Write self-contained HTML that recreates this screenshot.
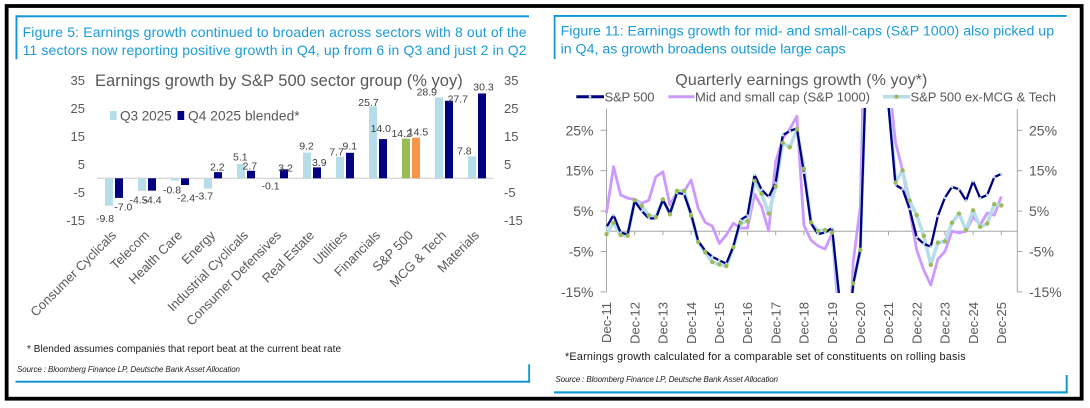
<!DOCTYPE html>
<html>
<head>
<meta charset="utf-8">
<style>
  html, body { margin:0; padding:0; background:#fff; }
  svg { display:block; }
  text { font-family: "Liberation Sans", Arial, sans-serif; }
</style>
</head>
<body>
<svg width="1090" height="408" viewBox="0 0 1090 408" xmlns="http://www.w3.org/2000/svg">
  <rect x="0" y="0" width="1090" height="408" fill="#ffffff"/>
  <!-- black frame -->
  <rect x="6.65" y="6" width="1075" height="392.7" fill="none" stroke="#000" stroke-width="3.8"/>

  <!-- ================= LEFT PANEL ================= -->
  <rect x="15.5" y="15.3" width="513.5" height="2" fill="#1297d6"/>
  <rect x="15.5" y="15.3" width="1.9" height="44" fill="#1297d6"/>
  <text x="22.6" y="37" font-size="14" fill="#1b9bd7" textLength="504" lengthAdjust="spacing">Figure 5: Earnings growth continued to broaden across sectors with 8 out of the</text>
  <text x="22.6" y="55" font-size="14" fill="#1b9bd7" textLength="504" lengthAdjust="spacing">11 sectors now reporting positive growth in Q4, up from 6 in Q3 and just 2 in Q2</text>

  <text x="95" y="86" font-size="16.5" fill="#595959" textLength="367.7" lengthAdjust="spacing">Earnings growth by S&amp;P 500 sector group (% yoy)</text>

  <!-- legend -->
  <rect x="110" y="111" width="6.7" height="9" fill="#b7dde8"/>
  <text x="120" y="120.5" font-size="13.7" fill="#595959" textLength="51.7" lengthAdjust="spacing">Q3 2025</text>
  <rect x="177.5" y="111" width="6.7" height="9" fill="#000080"/>
  <text x="188" y="120.5" font-size="13.7" fill="#595959" textLength="111.6" lengthAdjust="spacing">Q4 2025 blended*</text>

  <!-- y axis labels -->
  <g font-size="13" fill="#595959" text-anchor="end">
    <text x="85" y="85">35</text>
    <text x="85" y="113">25</text>
    <text x="85" y="141">15</text>
    <text x="85" y="169">5</text>
    <text x="85" y="197">-5</text>
    <text x="85" y="225">-15</text>
  </g>
  <g font-size="13" fill="#595959">
    <text x="504" y="85">35</text>
    <text x="504" y="113">25</text>
    <text x="504" y="141">15</text>
    <text x="504" y="169">5</text>
    <text x="504" y="197">-5</text>
    <text x="504" y="225">-15</text>
  </g>

  <!-- zero line -->
  <rect x="97" y="177.6" width="396" height="1.4" fill="#d9d9d9"/>

  <!-- bars -->
  <g>
    <rect x="105" y="178.3" width="8" height="27.44" fill="#b7dde8"/>
    <rect x="115" y="178.3" width="8" height="19.6" fill="#000080"/>
    <rect x="138" y="178.3" width="8" height="12.6" fill="#b7dde8"/>
    <rect x="148" y="178.3" width="8" height="12.32" fill="#000080"/>
    <rect x="171" y="178.3" width="8" height="2.24" fill="#b7dde8"/>
    <rect x="181" y="178.3" width="8" height="6.72" fill="#000080"/>
    <rect x="204" y="178.3" width="8" height="10.36" fill="#b7dde8"/>
    <rect x="214" y="172.14" width="8" height="6.16" fill="#000080"/>
    <rect x="237" y="164.02" width="8" height="14.28" fill="#b7dde8"/>
    <rect x="247" y="170.74" width="8" height="7.56" fill="#000080"/>
    <rect x="270" y="178.3" width="8" height="0.8" fill="#b7dde8"/>
    <rect x="280" y="169.34" width="8" height="8.96" fill="#000080"/>
    <rect x="303" y="152.54" width="8" height="25.76" fill="#b7dde8"/>
    <rect x="313" y="167.38" width="8" height="10.92" fill="#000080"/>
    <rect x="336" y="156.74" width="8" height="21.56" fill="#b7dde8"/>
    <rect x="346" y="152.82" width="8" height="25.48" fill="#000080"/>
    <rect x="369" y="106.34" width="8" height="71.96" fill="#b7dde8"/>
    <rect x="379" y="139.1" width="8" height="39.2" fill="#000080"/>
    <rect x="402" y="138.54" width="8" height="39.76" fill="#9bbb59"/>
    <rect x="412" y="137.7" width="8" height="40.6" fill="#f79646"/>
    <rect x="435" y="97.38" width="8" height="80.92" fill="#b7dde8"/>
    <rect x="445" y="100.74" width="8" height="77.56" fill="#000080"/>
    <rect x="468" y="156.46" width="8" height="21.84" fill="#b7dde8"/>
    <rect x="478" y="93.46" width="8" height="84.84" fill="#000080"/>
  </g>

  <!-- data labels -->
  <g font-size="10.5" fill="#404040" text-anchor="middle">
    <text x="105" y="222">-9.8</text>
    <text x="123.3" y="210.4">-7.0</text>
    <text x="138.5" y="203.7">-4.5</text>
    <text x="152.5" y="203.7">-4.4</text>
    <text x="172" y="193.7">-0.8</text>
    <text x="186" y="201.4">-2.4</text>
    <text x="204" y="199.7">-3.7</text>
    <text x="217.3" y="170.7">2.2</text>
    <text x="240.3" y="160.4">5.1</text>
    <text x="249.8" y="169.4">2.7</text>
    <text x="270.5" y="189.7">-0.1</text>
    <text x="285.5" y="171.4">3.2</text>
    <text x="306.5" y="149.7">9.2</text>
    <text x="319.3" y="166">3.9</text>
    <text x="336.5" y="155.4">7.7</text>
    <text x="349.8" y="149.7">9.1</text>
    <text x="368.5" y="106">25.7</text>
    <text x="380.8" y="132">14.0</text>
    <text x="401.7" y="137">14.2</text>
    <text x="418" y="135.4">14.5</text>
    <text x="426.8" y="95.4">28.9</text>
    <text x="457.8" y="102.7">27.7</text>
    <text x="464.3" y="154.7">7.8</text>
    <text x="483.5" y="90.4">30.3</text>
  </g>

  <!-- category labels -->
  <g font-size="13" fill="#595959" text-anchor="end">
    <text transform="translate(117,236) rotate(-45)">Consumer Cyclicals</text>
    <text transform="translate(150,236) rotate(-45)">Telecom</text>
    <text transform="translate(183,236) rotate(-45)">Health Care</text>
    <text transform="translate(216,236) rotate(-45)">Energy</text>
    <text transform="translate(249,236) rotate(-45)">Industrial Cyclicals</text>
    <text transform="translate(282,236) rotate(-45)">Consumer Defensives</text>
    <text transform="translate(315,236) rotate(-45)">Real Estate</text>
    <text transform="translate(348,236) rotate(-45)">Utilities</text>
    <text transform="translate(381,236) rotate(-45)">Financials</text>
    <text transform="translate(414,236) rotate(-45)">S&amp;P 500</text>
    <text transform="translate(447,236) rotate(-45)">MCG &amp; Tech</text>
    <text transform="translate(480,236) rotate(-45)">Materials</text>
  </g>

  <text x="27" y="352" font-size="10" fill="#1a1a1a" textLength="314" lengthAdjust="spacing">* Blended assumes companies that report beat at the current beat rate</text>
  <text x="17" y="372" font-size="8" font-style="italic" fill="#222" textLength="223" lengthAdjust="spacing">Source : Bloomberg Finance LP, Deutsche Bank Asset Allocation</text>
  <rect x="15.5" y="380.7" width="514.5" height="2" fill="#1297d6"/>
  <rect x="528.2" y="364.3" width="1.9" height="18.4" fill="#1297d6"/>

  <!-- ================= RIGHT PANEL ================= -->
  <rect x="553.7" y="15" width="513" height="1.9" fill="#1297d6"/>
  <rect x="553.7" y="15" width="1.8" height="44" fill="#1297d6"/>
  <text x="560.6" y="35.5" font-size="14.2" fill="#1b9bd7" textLength="493.5" lengthAdjust="spacing">Figure 11: Earnings growth for mid- and small-caps (S&amp;P 1000) also picked up</text>
  <text x="560.6" y="53.5" font-size="14.2" fill="#1b9bd7" textLength="285" lengthAdjust="spacing">in Q4, as growth broadens outside large caps</text>

  <text x="675.3" y="84.8" font-size="16" fill="#595959" textLength="252" lengthAdjust="spacing">Quarterly earnings growth (% yoy*)</text>

  <!-- legend -->
  <line x1="576.3" y1="96.7" x2="604" y2="96.7" stroke="#000080" stroke-width="3"/>
  <circle cx="590" cy="96.7" r="1.4" fill="#b7dde8"/>
  <text x="604.5" y="101.3" font-size="13" fill="#595959" textLength="50" lengthAdjust="spacing">S&amp;P 500</text>
  <line x1="668.4" y1="96.7" x2="694.5" y2="96.7" stroke="#cc99ff" stroke-width="3"/>
  <text x="695" y="101.3" font-size="13" fill="#595959" textLength="175" lengthAdjust="spacing">Mid and small cap (S&amp;P 1000)</text>
  <line x1="883" y1="96.7" x2="910" y2="96.7" stroke="#b7dde8" stroke-width="3.5"/>
  <circle cx="896.5" cy="96.7" r="2.2" fill="#9bbb59"/>
  <text x="910.5" y="101.3" font-size="13" fill="#595959" textLength="145.5" lengthAdjust="spacing">S&amp;P 500 ex-MCG &amp; Tech</text>

  <!-- axes -->
  <g stroke="#a6a6a6" stroke-width="1" fill="none">
    <line x1="606.5" y1="109" x2="606.5" y2="292"/>
    <line x1="600.5" y1="130.3" x2="606.5" y2="130.3"/>
    <line x1="600.5" y1="170.7" x2="606.5" y2="170.7"/>
    <line x1="600.5" y1="211.1" x2="606.5" y2="211.1"/>
    <line x1="600.5" y1="251.5" x2="606.5" y2="251.5"/>
    <line x1="600.5" y1="291.9" x2="606.5" y2="291.9"/>
    <line x1="1017.3" y1="109" x2="1017.3" y2="292"/>
    <line x1="1017.3" y1="130.3" x2="1022.5" y2="130.3"/>
    <line x1="1017.3" y1="170.7" x2="1022.5" y2="170.7"/>
    <line x1="1017.3" y1="211.1" x2="1022.5" y2="211.1"/>
    <line x1="1017.3" y1="251.5" x2="1022.5" y2="251.5"/>
    <line x1="1017.3" y1="291.9" x2="1022.5" y2="291.9"/>
    <line x1="606.5" y1="231.3" x2="1017.3" y2="231.3"/>
    <path d="M634.7 231.3v4M662.9 231.3v4M691.1 231.3v4M719.3 231.3v4M747.5 231.3v4M775.7 231.3v4M803.9 231.3v4M832.1 231.3v4M860.3 231.3v4M888.5 231.3v4M916.7 231.3v4M944.9 231.3v4M973.1 231.3v4M1001.3 231.3v4"/>
  </g>
  <g font-size="14" fill="#595959" text-anchor="end">
    <text x="593.5" y="135.3">25%</text>
    <text x="593.5" y="175.7">15%</text>
    <text x="593.5" y="216.1">5%</text>
    <text x="593.5" y="256.5">-5%</text>
    <text x="593.5" y="296.9">-15%</text>
  </g>
  <g font-size="14" fill="#595959">
    <text x="1029" y="135.3">25%</text>
    <text x="1029" y="175.7">15%</text>
    <text x="1029" y="216.1">5%</text>
    <text x="1029" y="256.5">-5%</text>
    <text x="1029" y="296.9">-15%</text>
  </g>

  <!-- x labels -->
  <g font-size="13" fill="#595959" text-anchor="end">
    <text transform="translate(611.2,302) rotate(-90)">Dec-11</text>
    <text transform="translate(639.4,302) rotate(-90)">Dec-12</text>
    <text transform="translate(667.6,302) rotate(-90)">Dec-13</text>
    <text transform="translate(695.8,302) rotate(-90)">Dec-14</text>
    <text transform="translate(724,302) rotate(-90)">Dec-15</text>
    <text transform="translate(752.2,302) rotate(-90)">Dec-16</text>
    <text transform="translate(780.4,302) rotate(-90)">Dec-17</text>
    <text transform="translate(808.6,302) rotate(-90)">Dec-18</text>
    <text transform="translate(836.8,302) rotate(-90)">Dec-19</text>
    <text transform="translate(865,302) rotate(-90)">Dec-20</text>
    <text transform="translate(893.2,302) rotate(-90)">Dec-21</text>
    <text transform="translate(921.4,302) rotate(-90)">Dec-22</text>
    <text transform="translate(949.6,302) rotate(-90)">Dec-23</text>
    <text transform="translate(977.8,302) rotate(-90)">Dec-24</text>
    <text transform="translate(1006,302) rotate(-90)">Dec-25</text>
  </g>

  <defs>
    <clipPath id="plot">
      <rect x="604" y="108" width="416" height="185"/>
    </clipPath>
  </defs>

  <g clip-path="url(#plot)" fill="none" stroke-linejoin="round">
    <!-- purple -->
    <polyline stroke="#cc99ff" stroke-width="2.8" points="606.5,213.12 613.55,166.66 620.6,194.94 627.65,198.17 634.7,199.38 641.75,203.42 648.8,200.19 655.85,176.76 662.9,171.91 669.95,205.04 677,191.71 684.05,191.71 691.1,179.99 698.15,208.27 705.2,222.41 712.25,226.05 719.3,243.42 726.35,234.94 733.4,223.22 740.45,228.07 747.5,228.07 754.55,194.13 761.6,206.66 768.65,230.9 775.7,161.81 782.75,138.38 789.8,129.09 796.85,116.16 803.9,225.24 810.95,240.19 818,245.84 825.05,249.08 832.1,233.32 839.15,320.18 846.2,413.1 853.25,261.6 860.3,206.66 867.35,-83.82 874.4,-374.7 881.45,-11.1 888.5,77.78 895.55,142.42 902.6,170.7 909.65,209.89 916.7,249.88 923.75,270.08 930.8,285.03 937.85,259.18 944.9,251.5 951.95,231.3 959,232.92 966.05,231.3 973.1,216.76 980.15,224.84 987.2,213.12 994.25,215.14 1001.3,196.56"/>
    <!-- light blue ex-MCG -->
    <polyline stroke="#b7dde8" stroke-width="3.5" points="606.5,234.13 613.55,222.82 620.6,234.94 627.65,235.74 634.7,200.19 641.75,205.85 648.8,215.14 655.85,217.16 662.9,199.38 669.95,214.33 677,190.9 684.05,190.9 691.1,215.54 698.15,241.8 705.2,252.31 712.25,262 719.3,264.43 726.35,266.04 733.4,247.06 740.45,223.22 747.5,221.2 754.55,180.8 761.6,193.73 768.65,213.52 775.7,186.46 782.75,142.82 789.8,147.27 796.85,129.49 803.9,168.68 810.95,222.41 818,230.9 825.05,230.09 832.1,232.51 839.15,299.98 846.2,364.62 853.25,283.42 860.3,249.88 867.35,21.22 874.4,-132.3 881.45,61.62 888.5,97.98 895.55,182.42 902.6,170.3 909.65,200.6 916.7,215.14 923.75,235.74 930.8,264.83 937.85,242.61 944.9,241.4 951.95,222.82 959,213.52 966.05,230.09 973.1,210.29 980.15,226.86 987.2,223.62 994.25,204.23 1001.3,205.44"/>
    <!-- navy S&P 500 -->
    <polyline stroke="#000080" stroke-width="2.3" points="606.5,227.26 613.55,215.14 620.6,232.51 627.65,234.53 634.7,201 641.75,211.1 648.8,218.37 655.85,218.37 662.9,199.79 669.95,213.52 677,192.92 684.05,194.13 691.1,213.93 698.15,241 705.2,250.69 712.25,256.75 719.3,260.39 726.35,263.62 733.4,246.25 740.45,219.99 747.5,215.54 754.55,174.74 761.6,189.69 768.65,196.96 775.7,182.82 782.75,135.15 789.8,131.11 796.85,128.28 803.9,172.72 810.95,223.22 818,234.13 825.05,232.51 832.1,228.07 839.15,295.94 846.2,356.54 853.25,283.82 860.3,249.48 867.35,29.3 874.4,-132.3 881.45,69.7 888.5,106.06 895.55,184.84 902.6,189.28 909.65,209.08 916.7,237.36 923.75,243.82 930.8,246.65 937.85,215.95 944.9,197.77 951.95,186.86 959,189.28 966.05,200.6 973.1,181.2 980.15,198.17 987.2,194.94 994.25,177.16 1001.3,173.93"/>
  </g>
  <!-- navy markers (light blue dots) -->
  <g clip-path="url(#plot)" fill="#b7dde8">
    <circle cx="606.5" cy="227.26" r="1.3"/><circle cx="613.55" cy="215.14" r="1.3"/><circle cx="620.6" cy="232.51" r="1.3"/><circle cx="627.65" cy="234.53" r="1.3"/><circle cx="634.7" cy="201" r="1.3"/><circle cx="641.75" cy="211.1" r="1.3"/><circle cx="648.8" cy="218.37" r="1.3"/><circle cx="655.85" cy="218.37" r="1.3"/><circle cx="662.9" cy="199.79" r="1.3"/><circle cx="669.95" cy="213.52" r="1.3"/><circle cx="677" cy="192.92" r="1.3"/><circle cx="684.05" cy="194.13" r="1.3"/><circle cx="691.1" cy="213.93" r="1.3"/><circle cx="698.15" cy="241" r="1.3"/><circle cx="705.2" cy="250.69" r="1.3"/><circle cx="712.25" cy="256.75" r="1.3"/><circle cx="719.3" cy="260.39" r="1.3"/><circle cx="726.35" cy="263.62" r="1.3"/><circle cx="733.4" cy="246.25" r="1.3"/><circle cx="740.45" cy="219.99" r="1.3"/><circle cx="747.5" cy="215.54" r="1.3"/><circle cx="754.55" cy="174.74" r="1.3"/><circle cx="761.6" cy="189.69" r="1.3"/><circle cx="768.65" cy="196.96" r="1.3"/><circle cx="775.7" cy="182.82" r="1.3"/><circle cx="782.75" cy="135.15" r="1.3"/><circle cx="789.8" cy="131.11" r="1.3"/><circle cx="796.85" cy="128.28" r="1.3"/><circle cx="803.9" cy="172.72" r="1.3"/><circle cx="810.95" cy="223.22" r="1.3"/><circle cx="818" cy="234.13" r="1.3"/><circle cx="825.05" cy="232.51" r="1.3"/><circle cx="832.1" cy="228.07" r="1.3"/><circle cx="853.25" cy="283.82" r="1.3"/><circle cx="860.3" cy="249.48" r="1.3"/><circle cx="895.55" cy="184.84" r="1.3"/><circle cx="902.6" cy="189.28" r="1.3"/><circle cx="909.65" cy="209.08" r="1.3"/><circle cx="916.7" cy="237.36" r="1.3"/><circle cx="923.75" cy="243.82" r="1.3"/><circle cx="930.8" cy="246.65" r="1.3"/><circle cx="937.85" cy="215.95" r="1.3"/><circle cx="944.9" cy="197.77" r="1.3"/><circle cx="951.95" cy="186.86" r="1.3"/><circle cx="959" cy="189.28" r="1.3"/><circle cx="966.05" cy="200.6" r="1.3"/><circle cx="973.1" cy="181.2" r="1.3"/><circle cx="980.15" cy="198.17" r="1.3"/><circle cx="987.2" cy="194.94" r="1.3"/><circle cx="994.25" cy="177.16" r="1.3"/><circle cx="1001.3" cy="173.93" r="1.3"/>
  </g>
  <!-- green markers -->
  <g clip-path="url(#plot)" fill="#9bbb59">
    <circle cx="606.5" cy="234.13" r="2.2"/><circle cx="613.55" cy="222.82" r="2.2"/><circle cx="620.6" cy="234.94" r="2.2"/><circle cx="627.65" cy="235.74" r="2.2"/><circle cx="634.7" cy="200.19" r="2.2"/><circle cx="641.75" cy="205.85" r="2.2"/><circle cx="648.8" cy="215.14" r="2.2"/><circle cx="655.85" cy="217.16" r="2.2"/><circle cx="662.9" cy="199.38" r="2.2"/><circle cx="669.95" cy="214.33" r="2.2"/><circle cx="677" cy="190.9" r="2.2"/><circle cx="684.05" cy="190.9" r="2.2"/><circle cx="691.1" cy="215.54" r="2.2"/><circle cx="698.15" cy="241.8" r="2.2"/><circle cx="705.2" cy="252.31" r="2.2"/><circle cx="712.25" cy="262" r="2.2"/><circle cx="719.3" cy="264.43" r="2.2"/><circle cx="726.35" cy="266.04" r="2.2"/><circle cx="733.4" cy="247.06" r="2.2"/><circle cx="740.45" cy="223.22" r="2.2"/><circle cx="747.5" cy="221.2" r="2.2"/><circle cx="754.55" cy="180.8" r="2.2"/><circle cx="761.6" cy="193.73" r="2.2"/><circle cx="768.65" cy="213.52" r="2.2"/><circle cx="775.7" cy="186.46" r="2.2"/><circle cx="782.75" cy="142.82" r="2.2"/><circle cx="789.8" cy="147.27" r="2.2"/><circle cx="796.85" cy="129.49" r="2.2"/><circle cx="803.9" cy="168.68" r="2.2"/><circle cx="810.95" cy="222.41" r="2.2"/><circle cx="818" cy="230.9" r="2.2"/><circle cx="825.05" cy="230.09" r="2.2"/><circle cx="832.1" cy="232.51" r="2.2"/><circle cx="853.25" cy="283.42" r="2.2"/><circle cx="860.3" cy="249.88" r="2.2"/><circle cx="895.55" cy="182.42" r="2.2"/><circle cx="902.6" cy="170.3" r="2.2"/><circle cx="909.65" cy="200.6" r="2.2"/><circle cx="916.7" cy="215.14" r="2.2"/><circle cx="923.75" cy="235.74" r="2.2"/><circle cx="930.8" cy="264.83" r="2.2"/><circle cx="937.85" cy="242.61" r="2.2"/><circle cx="944.9" cy="241.4" r="2.2"/><circle cx="951.95" cy="222.82" r="2.2"/><circle cx="959" cy="213.52" r="2.2"/><circle cx="966.05" cy="230.09" r="2.2"/><circle cx="973.1" cy="210.29" r="2.2"/><circle cx="980.15" cy="226.86" r="2.2"/><circle cx="987.2" cy="223.62" r="2.2"/><circle cx="994.25" cy="204.23" r="2.2"/><circle cx="1001.3" cy="205.44" r="2.2"/>
  </g>

  <text x="565" y="360" font-size="10.8" fill="#1a1a1a" textLength="400.6" lengthAdjust="spacing">*Earnings growth calculated for a comparable set of constituents on rolling basis</text>
  <text x="555.4" y="382" font-size="8" font-style="italic" fill="#222" textLength="222.6" lengthAdjust="spacing">Source : Bloomberg Finance LP, Deutsche Bank Asset Allocation</text>
  <rect x="554" y="391.3" width="513.7" height="2.2" fill="#1297d6"/>
  <rect x="1065.7" y="375" width="2" height="18.5" fill="#1297d6"/>
</svg>
</body>
</html>
